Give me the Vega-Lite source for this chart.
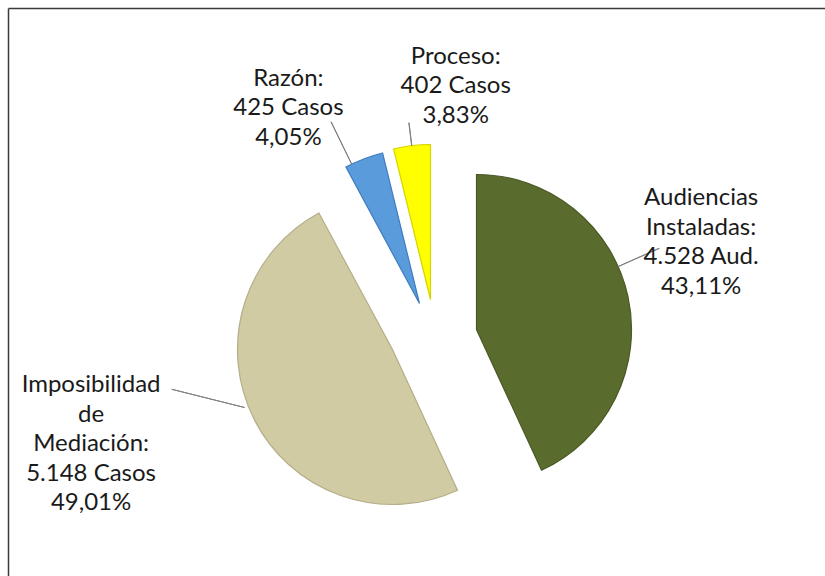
{
  "$schema": "https://vega.github.io/schema/vega-lite/v6.json",
  "width": 825,
  "height": 576,
  "autosize": {"type": "fit", "contains": "padding"},
  "padding": {"left": 5, "top": 5, "right": 0, "bottom": 0},
  "background": "white",
  "config": {"view": {"stroke": null}},
  "data": {
    "values": [
      {"order": 1, "category": "Audiencias Instaladas", "value": 4528, "label": "Audiencias\nInstaladas:\n4.528 Aud.\n43,11%"},
      {"order": 2, "category": "Imposibilidad de Mediación", "value": 5148, "label": "Imposibilidad\nde\nMediación:\n5.148 Casos\n49,01%"},
      {"order": 3, "category": "Razón", "value": 425, "label": "Razón:\n425 Casos\n4,05%"},
      {"order": 4, "category": "Proceso", "value": 402, "label": "Proceso:\n402 Casos\n3,83%"}
    ]
  },
  "transform": [
    {"stack": "value", "groupby": [], "sort": [{"field": "order", "order": "ascending"}], "as": ["v0", "v1"]},
    {"calculate": "(datum.v0 + datum.v1) / 2", "as": "mid"}
  ],
  "layer": [
    {
      "mark": {"type": "point", "opacity": 0},
      "encoding": {
        "x": {"datum": 0, "type": "quantitative", "axis": {"orient": "top", "domainColor": "#3a3a3a", "domainWidth": 1.5, "ticks": false, "labels": false, "grid": false, "title": null}},
        "y": {"datum": 0, "type": "quantitative", "axis": {"orient": "left", "domainColor": "#3a3a3a", "domainWidth": 1.5, "ticks": false, "labels": false, "grid": false, "title": null}}
      }
    },
    {
      "transform": [{"filter": "datum.category === 'Audiencias Instaladas'"}],
      "layer": [
        {
          "mark": {"type": "arc", "radius": 155, "xOffset": 60, "yOffset": 37.5, "strokeWidth": 1.2},
          "encoding": {
            "theta": {"field": "v0", "type": "quantitative", "stack": null, "scale": {"domain": [0, 10503], "range": [0, 6.283185307]}},
            "theta2": {"field": "v1"},
            "color": {"field": "category", "type": "nominal", "legend": null, "scale": {"domain": ["Audiencias Instaladas", "Imposibilidad de Mediación", "Razón", "Proceso"], "range": ["#5A6B2E", "#D0CBA3", "#5A9BDC", "#FFFF00"]}},
            "stroke": {"field": "category", "type": "nominal", "legend": null, "scale": {"domain": ["Audiencias Instaladas", "Imposibilidad de Mediación", "Razón", "Proceso"], "range": ["#4A5924", "#B3AE88", "#3E7CBF", "#D4D400"]}}
          }
        },
        {
          "mark": {"type": "arc", "theta": 1.152, "theta2": 1.1535, "radius": 200, "radius2": 155, "xOffset": 60, "yOffset": 37.5, "filled": false, "stroke": "#808080", "strokeWidth": 1},
          "encoding": {}
        },
        {
          "mark": {"type": "text", "radius": 230, "xOffset": 60, "yOffset": 37.5, "dy": -82, "font": "Lato", "fontSize": 24, "lineHeight": 29.5, "lineBreak": "\n", "align": "center", "baseline": "middle", "color": "#1a1a1a"},
          "encoding": {
            "theta": {"field": "mid", "type": "quantitative", "stack": null, "scale": {"domain": [0, 10503], "range": [0, 6.283185307]}},
            "text": {"field": "label"}
          }
        }
      ]
    },
    {
      "transform": [{"filter": "datum.category === 'Imposibilidad de Mediación'"}],
      "layer": [
        {
          "mark": {"type": "arc", "radius": 155, "xOffset": -24, "yOffset": 57.5, "strokeWidth": 1.2},
          "encoding": {
            "theta": {"field": "v0", "type": "quantitative", "stack": null, "scale": {"domain": [0, 10503], "range": [0, 6.283185307]}},
            "theta2": {"field": "v1"},
            "color": {"field": "category", "type": "nominal", "legend": null},
            "stroke": {"field": "category", "type": "nominal", "legend": null}
          }
        },
        {
          "mark": {"type": "arc", "theta": 4.957, "theta2": 4.9585, "radius": 75, "radius2": 0, "xOffset": -172, "yOffset": 115.5, "filled": false, "stroke": "#808080", "strokeWidth": 1},
          "encoding": {}
        },
        {
          "mark": {"type": "text", "radius": 337, "xOffset": -24, "yOffset": 57.5, "dy": -115, "font": "Lato", "fontSize": 24, "lineHeight": 29.5, "lineBreak": "\n", "align": "center", "baseline": "middle", "color": "#1a1a1a"},
          "encoding": {
            "theta": {"field": "mid", "type": "quantitative", "stack": null},
            "text": {"field": "label"}
          }
        }
      ]
    },
    {
      "transform": [{"filter": "datum.category === 'Razón'"}],
      "layer": [
        {
          "mark": {"type": "arc", "radius": 155, "xOffset": 3, "yOffset": 11.5, "strokeWidth": 1.2},
          "encoding": {
            "theta": {"field": "v0", "type": "quantitative", "stack": null},
            "theta2": {"field": "v1"},
            "color": {"field": "category", "type": "nominal", "legend": null},
            "stroke": {"field": "category", "type": "nominal", "legend": null}
          }
        },
        {
          "mark": {"type": "arc", "theta": 5.8294, "theta2": 5.8309, "radius": 202, "radius2": 155, "xOffset": 3, "yOffset": 11.5, "filled": false, "stroke": "#808080", "strokeWidth": 1},
          "encoding": {}
        },
        {
          "mark": {"type": "text", "radius": 209, "xOffset": 3, "yOffset": 11.5, "dx": -56, "dy": -29.5, "font": "Lato", "fontSize": 24, "lineHeight": 29.5, "lineBreak": "\n", "align": "center", "baseline": "middle", "color": "#1a1a1a"},
          "encoding": {
            "theta": {"field": "mid", "type": "quantitative", "stack": null},
            "text": {"field": "label"}
          }
        }
      ]
    },
    {
      "transform": [{"filter": "datum.category === 'Proceso'"}],
      "layer": [
        {
          "mark": {"type": "arc", "radius": 155, "xOffset": 14, "yOffset": 7.5, "strokeWidth": 1.2},
          "encoding": {
            "theta": {"field": "v0", "type": "quantitative", "stack": null},
            "theta2": {"field": "v1"},
            "color": {"field": "category", "type": "nominal", "legend": null},
            "stroke": {"field": "category", "type": "nominal", "legend": null}
          }
        },
        {
          "mark": {"type": "arc", "theta": 6.161, "theta2": 6.1625, "radius": 178, "radius2": 155, "xOffset": 14, "yOffset": 7.5, "filled": false, "stroke": "#808080", "strokeWidth": 1},
          "encoding": {}
        },
        {
          "mark": {"type": "text", "radius": 215, "xOffset": 14, "yOffset": 7.5, "dx": 51, "dy": -29.5, "font": "Lato", "fontSize": 24, "lineHeight": 29.5, "lineBreak": "\n", "align": "center", "baseline": "middle", "color": "#1a1a1a"},
          "encoding": {
            "theta": {"field": "mid", "type": "quantitative", "stack": null},
            "text": {"field": "label"}
          }
        }
      ]
    }
  ]
}
